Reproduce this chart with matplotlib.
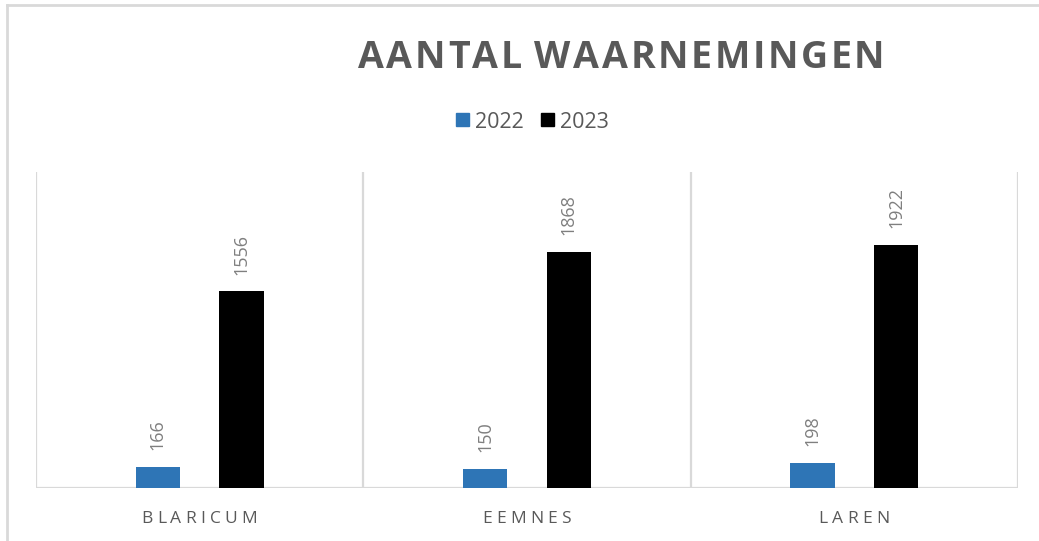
import matplotlib
matplotlib.use("Agg")
import matplotlib.pyplot as plt
import numpy as np

categories = ["BLARICUM", "EEMNES", "LAREN"]
series_names = ["2022", "2023"]
values_2022 = [166, 150, 198]
values_2023 = [1556, 1868, 1922]
title_text = "AANTAL WAARNEMINGEN"

W, H = 1039, 541
DPI = 100
fig = plt.figure(figsize=(W / DPI, H / DPI), dpi=DPI)
fig.patch.set_facecolor("white")

grid_c = "#d9d9d9"
txt_c = "#595959"
lab_c = "#7f7f7f"
blue = "#2e75b6"
black = "#000000"

ax = fig.add_axes([36 / W, 1 - 488 / H, (1018 - 36) / W, (488 - 172) / H])
x = np.arange(len(categories))
bw = 0.136
off = 0.128
b1 = ax.bar(x - off, values_2022, bw, color=blue, zorder=3)
b2 = ax.bar(x + off, values_2023, bw, color=black, zorder=3)
ax.set_xlim(-0.5, len(categories) - 0.5)
ax.set_ylim(0, 2500)
for s in ax.spines.values():
    s.set_visible(False)
ax.set_xticks([])
ax.set_yticks([])
for b in np.arange(-0.5, len(categories), 1.0):
    ax.axvline(b, color=grid_c, lw=1.6, zorder=1)
ax.axhline(0, color=grid_c, lw=1.6, zorder=2)

for bars, vals in ((b1, values_2022), (b2, values_2023)):
    for r, v in zip(bars, vals):
        ax.annotate(str(v), (r.get_x() + r.get_width() / 2, v), xytext=(0, 12),
                    textcoords="offset points", rotation=90, ha="center", va="bottom",
                    fontsize=13, color=lab_c, family="Open Sans")

fig.canvas.draw()
renderer = fig.canvas.get_renderer()


def spaced_text(s, cx, y_px, spacing, space_frac=0.5, **kw):
    # draw text with letter spacing, centered at cx (pixels), baseline y_px from top
    widths = []
    for ch in s:
        t = fig.text(0, 0, ch if ch != " " else "n", **kw)
        w = t.get_window_extent(renderer).width
        if ch == " ":
            w *= space_frac
        t.remove()
        widths.append(w)
    total = sum(widths) + spacing * (len(s) - 1)
    xpos = cx - total / 2
    for ch, w in zip(s, widths):
        if ch != " ":
            fig.text(xpos / W, 1 - y_px / H, ch, ha="left", va="baseline", **kw)
        xpos += w + spacing


spaced_text(title_text, 621, 68, 2.6, space_frac=0.3, fontsize=27, fontweight="bold",
            color=txt_c, family="Open Sans")

cat_centers = [199.5, 526.5, 854]
for c, cx in zip(categories, cat_centers):
    spaced_text(c, cx, 523, 4.2, fontsize=12.5, color=txt_c, family="Open Sans")

# legend
from matplotlib.patches import Rectangle
fig.patches.append(Rectangle((456 / W, 1 - 126 / H), 13 / W, 13 / H, transform=fig.transFigure,
                             color=blue, figure=fig))
fig.text(475 / W, 1 - 127.5 / H, series_names[0], fontsize=15.5, color=txt_c,
         family="Open Sans", va="baseline", ha="left")
fig.patches.append(Rectangle((541 / W, 1 - 126 / H), 13 / W, 13 / H, transform=fig.transFigure,
                             color=black, figure=fig))
fig.text(560 / W, 1 - 127.5 / H, series_names[1], fontsize=15.5, color=txt_c,
         family="Open Sans", va="baseline", ha="left")

# outer chart border (top and left visible)
fig.add_artist(plt.Line2D([7 / W, 7 / W], [0, 1 - 5 / H], transform=fig.transFigure,
                          color=grid_c, lw=2))
fig.add_artist(plt.Line2D([7 / W, 1], [1 - 5 / H, 1 - 5 / H], transform=fig.transFigure,
                          color=grid_c, lw=2))

fig.savefig("out.png", dpi=DPI)
